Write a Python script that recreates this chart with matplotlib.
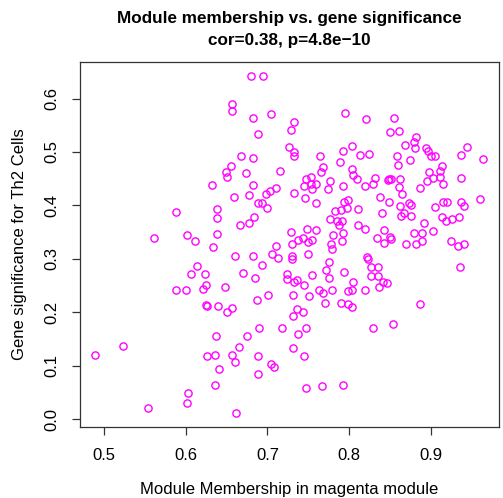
import matplotlib
matplotlib.use("Agg")
import matplotlib.pyplot as plt

# module membership (x) and gene significance (y) for genes of the magenta module
mm = [0.680, 0.695, 0.657, 0.657, 0.682, 0.705, 0.795, 0.732, 0.729, 0.689,
      0.726, 0.733, 0.733, 0.668, 0.683, 0.764, 0.792, 0.803, 0.789, 0.655,
      0.650, 0.651, 0.674, 0.716, 0.768, 0.766, 0.803, 0.805, 0.753, 0.747,
      0.753, 0.777, 0.683, 0.745, 0.759, 0.710, 0.792, 0.774, 0.821, 0.855,
      0.850, 0.861, 0.881, 0.879, 0.880, 0.868, 0.894, 0.896, 0.900, 0.905,
      0.944, 0.813, 0.824, 0.858, 0.937, 0.964, 0.874, 0.860, 0.809, 0.913,
      0.911, 0.898, 0.831, 0.847, 0.849, 0.851, 0.862, 0.902, 0.911, 0.895,
      0.937, 0.915, 0.819, 0.829, 0.861, 0.887, 0.632, 0.588, 0.639, 0.639,
      0.561, 0.602, 0.611, 0.639, 0.633, 0.614, 0.607, 0.624, 0.625, 0.621,
      0.588, 0.601, 0.625, 0.626, 0.640, 0.703, 0.698, 0.755, 0.659, 0.677,
      0.733, 0.746, 0.689, 0.694, 0.699, 0.759, 0.794, 0.798, 0.783, 0.790,
      0.797, 0.684, 0.678, 0.666, 0.776, 0.785, 0.791, 0.788, 0.748, 0.760,
      0.729, 0.780, 0.792, 0.738, 0.744, 0.750, 0.754, 0.730, 0.791, 0.710,
      0.778, 0.779, 0.661, 0.682, 0.706, 0.713, 0.730, 0.730, 0.750, 0.694,
      0.775, 0.772, 0.670, 0.685, 0.724, 0.724, 0.755, 0.794, 0.775, 0.732,
      0.736, 0.745, 0.648, 0.805, 0.763, 0.768, 0.779, 0.798, 0.804, 0.687,
      0.701, 0.731, 0.751, 0.770, 0.790, 0.799, 0.657, 0.736, 0.804, 0.865,
      0.811, 0.837, 0.848, 0.862, 0.873, 0.875, 0.867, 0.863, 0.875, 0.840,
      0.905, 0.915, 0.920, 0.937, 0.940, 0.960, 0.913, 0.918, 0.926, 0.934,
      0.811, 0.819, 0.842, 0.891, 0.902, 0.879, 0.889, 0.834, 0.850, 0.851,
      0.842, 0.869, 0.881, 0.889, 0.924, 0.933, 0.940, 0.822, 0.823, 0.826,
      0.835, 0.826, 0.835, 0.935, 0.841, 0.846, 0.836, 0.819, 0.886, 0.490,
      0.523, 0.554, 0.603, 0.602, 0.637, 0.626, 0.636, 0.641, 0.636, 0.651,
      0.731, 0.744, 0.690, 0.718, 0.747, 0.738, 0.675, 0.665, 0.731, 0.657,
      0.661, 0.688, 0.745, 0.704, 0.708, 0.688, 0.747, 0.767, 0.793, 0.662,
      0.829, 0.854]

gs = [0.643, 0.643, 0.590, 0.576, 0.563, 0.571, 0.572, 0.557, 0.541, 0.533,
      0.510, 0.500, 0.493, 0.493, 0.488, 0.492, 0.501, 0.511, 0.482, 0.473,
      0.463, 0.454, 0.461, 0.465, 0.472, 0.463, 0.469, 0.457, 0.453, 0.449,
      0.441, 0.446, 0.439, 0.436, 0.440, 0.433, 0.436, 0.430, 0.561, 0.564,
      0.537, 0.539, 0.528, 0.519, 0.508, 0.513, 0.507, 0.502, 0.493, 0.493,
      0.509, 0.495, 0.497, 0.492, 0.494, 0.486, 0.485, 0.475, 0.449, 0.474,
      0.465, 0.462, 0.451, 0.448, 0.450, 0.449, 0.450, 0.452, 0.454, 0.446,
      0.451, 0.441, 0.437, 0.441, 0.434, 0.433, 0.439, 0.387, 0.394, 0.377,
      0.340, 0.345, 0.333, 0.346, 0.323, 0.287, 0.272, 0.272, 0.252, 0.244,
      0.242, 0.242, 0.213, 0.2125, 0.212, 0.427, 0.421, 0.431, 0.415, 0.420,
      0.423, 0.414, 0.404, 0.405, 0.396, 0.405, 0.407, 0.410, 0.390, 0.391,
      0.396, 0.378, 0.368, 0.364, 0.375, 0.370, 0.370, 0.364, 0.356, 0.355,
      0.350, 0.345, 0.348, 0.336, 0.340, 0.332, 0.336, 0.328, 0.334, 0.325,
      0.327, 0.318, 0.306, 0.305, 0.309, 0.301, 0.306, 0.300, 0.310, 0.289,
      0.294, 0.280, 0.274, 0.265, 0.272, 0.263, 0.270, 0.276, 0.264, 0.257,
      0.260, 0.251, 0.247, 0.257, 0.242, 0.236, 0.242, 0.240, 0.241, 0.224,
      0.233, 0.233, 0.231, 0.218, 0.218, 0.215, 0.209, 0.207, 0.210, 0.422,
      0.394, 0.415, 0.407, 0.399, 0.404, 0.401, 0.386, 0.381, 0.381, 0.385,
      0.398, 0.407, 0.407, 0.406, 0.399, 0.413, 0.379, 0.371, 0.375, 0.378,
      0.363, 0.356, 0.355, 0.368, 0.353, 0.348, 0.349, 0.340, 0.341, 0.337,
      0.330, 0.328, 0.328, 0.333, 0.334, 0.325, 0.327, 0.304, 0.300, 0.285,
      0.285, 0.269, 0.269, 0.284, 0.256, 0.255, 0.248, 0.242, 0.216, 0.121,
      0.137, 0.021, 0.050, 0.030, 0.155, 0.119, 0.121, 0.094, 0.064, 0.201,
      0.194, 0.200, 0.171, 0.171, 0.171, 0.160, 0.156, 0.136, 0.134, 0.121,
      0.108, 0.118, 0.119, 0.104, 0.097, 0.085, 0.059, 0.062, 0.064, 0.011,
      0.171, 0.178]

x_ticks = [0.5, 0.6, 0.7, 0.8, 0.9]
y_ticks = [0.0, 0.1, 0.2, 0.3, 0.4, 0.5, 0.6]

plt.rcParams["font.family"] = ["Liberation Sans", "DejaVu Sans"]

fig = plt.figure(figsize=(5.03, 4.98), dpi=100)
ax = fig.add_axes([0.159, 0.1426, 0.833, 0.7329])

ax.plot(mm, gs, linestyle="none", marker="o", markersize=5.2,
        markerfacecolor="none", markeredgecolor="magenta", markeredgewidth=1.0)

# R style axis range: data range padded by 4% on each side
def r_range(v):
    lo, hi = min(v), max(v)
    pad = (hi - lo) * 0.04
    return lo - pad, hi + pad

ax.set_xlim(r_range(mm))
ax.set_ylim(r_range(gs))
ax.set_xticks(x_ticks)
ax.set_xticklabels([f"{t:.1f}" for t in x_ticks])
ax.set_yticks(y_ticks)
ax.set_yticklabels([f"{t:.1f}" for t in y_ticks], rotation=90, va="center")
ax.tick_params(direction="out", length=6, width=0.9, labelsize=12, pad=9,
               color="#333333")
for s in ax.spines.values():
    s.set_color("#333333")
    s.set_linewidth(0.9)

ax.set_xlabel("Module Membership in magenta module", fontsize=12, labelpad=14)
ax.set_ylabel("Gene significance for Th2 Cells", fontsize=12, labelpad=12)
ax.set_title("Module membership vs. gene significance\ncor=0.38, p=4.8e\u221210",
             fontsize=12.3, fontweight="bold", pad=12, linespacing=1.6)

fig.savefig("out.png", dpi=100)
